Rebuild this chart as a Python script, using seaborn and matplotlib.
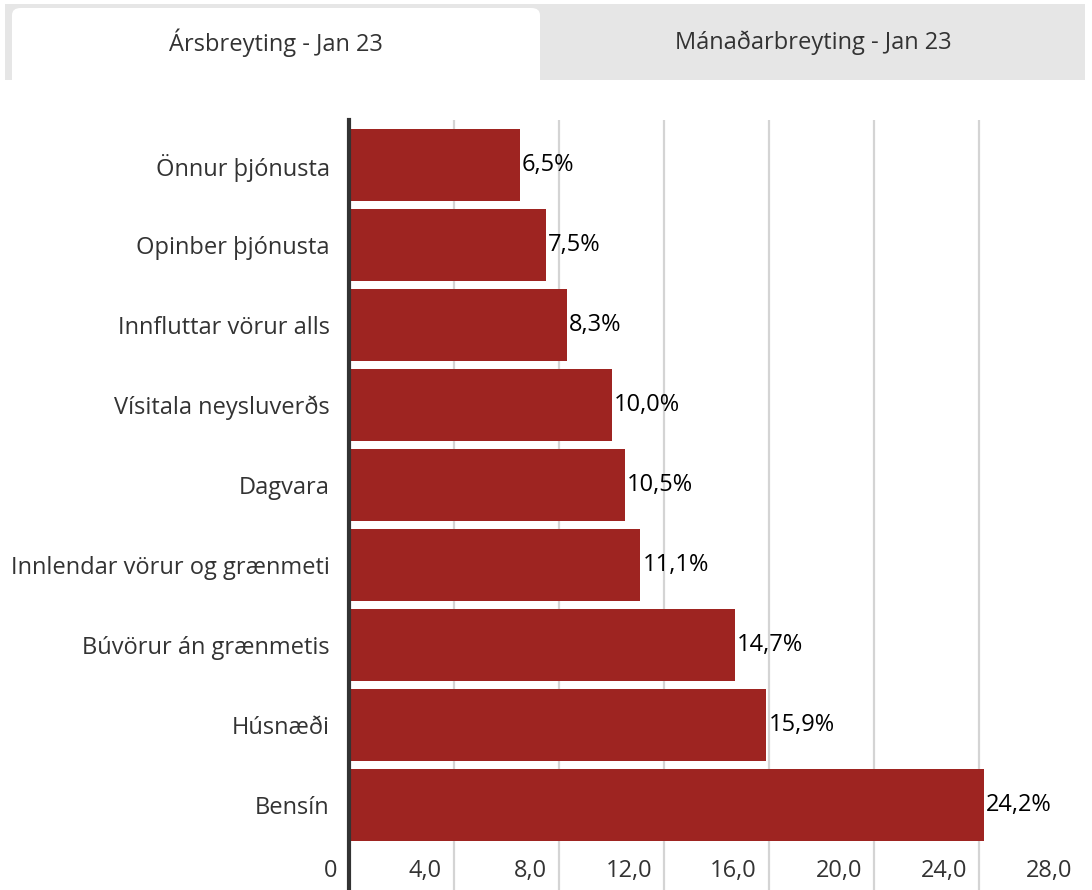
import matplotlib
matplotlib.use("Agg")
import matplotlib.pyplot as plt
import matplotlib.transforms as mtransforms
from matplotlib.patches import FancyBboxPatch, Rectangle
import seaborn as sns
import pandas as pd

# Gögn
flokkar = ['Önnur þjónusta', 'Opinber þjónusta', 'Innfluttar vörur alls',
           'Vísitala neysluverðs', 'Dagvara', 'Innlendar vörur og grænmeti',
           'Búvörur án grænmetis', 'Húsnæði', 'Bensín']
gildi = [6.5, 7.5, 8.3, 10.0, 10.5, 11.1, 14.7, 15.9, 24.2]
x_ticks = [0, 4, 8, 12, 16, 20, 24, 28]
x_labels = ['0', '4,0', '8,0', '12,0', '16,0', '20,0', '24,0', '28,0']
flipar = ['Ársbreyting - Jan 23', 'Mánaðarbreyting - Jan 23']

sns.set_style("white")
plt.rcParams['font.family'] = ['Open Sans', 'DejaVu Sans']

df = pd.DataFrame({'flokkur': flokkar, 'gildi': gildi})

W, H = 1092, 890
fig = plt.figure(figsize=(W / 100, H / 100), dpi=100)

# Flipar efst
fig.patches.append(Rectangle((5 / W, 1 - 80 / H), 1080 / W, 76 / H, transform=fig.transFigure,
                             facecolor='#e6e6e6', edgecolor='none', zorder=0))
fig.patches.append(FancyBboxPatch((12 / W, 1 - 80 / H), 528 / W, 72 / H,
                                  boxstyle="round,pad=0,rounding_size=0.008",
                                  transform=fig.transFigure, facecolor='white',
                                  edgecolor='none', zorder=1))
fig.patches.append(Rectangle((12 / W, 1 - 80 / H), 528 / W, 30 / H, transform=fig.transFigure,
                             facecolor='white', edgecolor='none', zorder=1))
fig.text(276 / W, 1 - 43 / H, flipar[0], ha='center', va='center', fontsize=17, color='#333333')
fig.text(813 / W, 1 - 43 / H, flipar[1], ha='center', va='center', fontsize=17, color='#333333')

ax = fig.add_axes([349 / W, 0, 735 / W, 1 - 120 / H])
sns.barplot(data=df, y='flokkur', x='gildi', orient='h', color='#9e2421',
            saturation=1, width=0.9, linewidth=0, ax=ax, zorder=2)

ax.set_xlim(0, 28)
ax.set_ylim(9.06, -0.5625)
ax.set_xlabel('')
ax.set_ylabel('')

# Rist
for t in x_ticks[1:-1]:
    ax.axvline(t, color='#d4d4d4', linewidth=1.6, zorder=1)

for s in ['top', 'right', 'bottom']:
    ax.spines[s].set_visible(False)
ax.spines['left'].set_color('#333333')
ax.spines['left'].set_linewidth(3)
ax.spines['left'].set_zorder(3)

ax.set_xticks(x_ticks)
ax.set_xticklabels(x_labels)
ax.tick_params(axis='x', length=0, pad=-22, labelsize=17, labelcolor='#333333')
ax.tick_params(axis='y', length=0, pad=14, labelsize=17, labelcolor='#333333')
off = mtransforms.ScaledTranslation(-12 / 100, 0, fig.dpi_scale_trans)
for lab in ax.get_xticklabels():
    lab.set_horizontalalignment('right')
    lab.set_transform(lab.get_transform() + off)

# Gildismerki
for i, v in enumerate(gildi):
    ax.text(v + 0.08, i, f"{v:.1f}%".replace('.', ','), va='center', ha='left',
            fontsize=17, color='black', zorder=4)

fig.savefig('out.png', dpi=100)
